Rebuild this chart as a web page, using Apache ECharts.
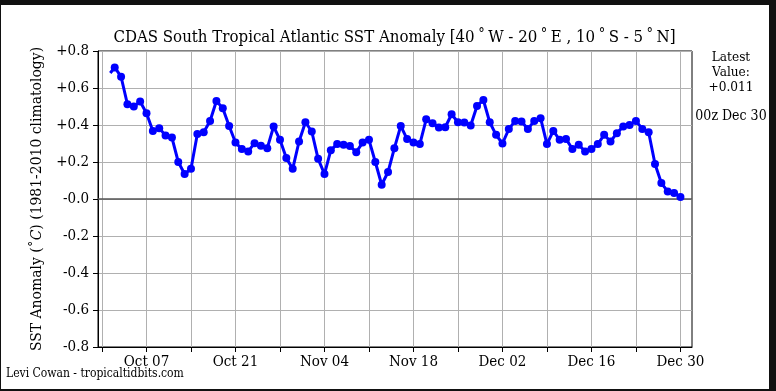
<!DOCTYPE html>
<html>
<head>
<meta charset="utf-8">
<script src="https://cdn.jsdelivr.net/npm/echarts@6/dist/echarts.min.js"></script>
<style>
  html, body { margin: 0; padding: 0; background: #111111; }
  #frame { position: absolute; left: 1px; top: 5px; width: 768px; height: 384px; background: #ffffff; }
  #chart { position: absolute; left: 0; top: 0; width: 776px; height: 391px; }
</style>
</head>
<body>
<div id="frame"></div>
<div id="chart"></div>
<script>
// Daily 00z values, Oct 02 .. Dec 30 (day offsets measured from Oct 07)
const firstDay = -5;            // Oct 02
const leadIn = [-5.7, 0.681];   // start of the line (no marker)
const octValues = [0.711, 0.661, 0.512, 0.500, 0.527, 0.464, 0.368, 0.383, 0.343, 0.332,
  0.200, 0.135, 0.163, 0.351, 0.361, 0.422, 0.530, 0.491, 0.395, 0.305,
  0.270, 0.257, 0.302, 0.288, 0.275, 0.392, 0.320, 0.221, 0.163, 0.311];
const novValues = [0.415, 0.365, 0.217, 0.135, 0.264, 0.297, 0.293, 0.287, 0.253, 0.305,
  0.320, 0.200, 0.077, 0.146, 0.275, 0.395, 0.324, 0.305, 0.297, 0.431,
  0.410, 0.386, 0.388, 0.458, 0.415, 0.413, 0.397, 0.503, 0.535, 0.415];
const decValues = [0.347, 0.300, 0.378, 0.422, 0.419, 0.378, 0.422, 0.437, 0.297, 0.368,
  0.320, 0.325, 0.270, 0.293, 0.257, 0.270, 0.297, 0.347, 0.311, 0.356,
  0.392, 0.400, 0.422, 0.379, 0.361, 0.189, 0.086, 0.041, 0.032, 0.011];
const tickDays = [-7, 0, 7, 14, 21, 28, 35, 42, 49, 56, 63, 70, 77, 84];
const labelDays = [0, 14, 28, 42, 56, 70, 84];

const allValues = octValues.concat(novValues, decValues);
const seriesData = [{ value: leadIn, symbol: 'none' }].concat(
  allValues.map((v, i) => [firstDay + i, v]));

const months = ['Jan','Feb','Mar','Apr','May','Jun','Jul','Aug','Sep','Oct','Nov','Dec'];
function dayLabel(d) {
  const dt = new Date(2024, 9, 7 + Math.round(d));
  const dd = dt.getDate();
  return months[dt.getMonth()] + ' ' + (dd < 10 ? '0' + dd : dd);
}

const FONT = '"DejaVu Serif Condensed", "DejaVu Serif", serif';
const chart = echarts.init(document.getElementById('chart'), null, { renderer: 'canvas' });
chart.setOption({
  backgroundColor: 'transparent',
  animation: false,
  textStyle: { fontFamily: FONT },
  grid: { left: 98, top: 51, right: 84, bottom: 44, show: true, borderColor: '#000', borderWidth: 1, containLabel: false },
  xAxis: {
    type: 'value',
    min: -7.63, max: 85.82,
    axisLine: { show: true, onZero: false, lineStyle: { color: '#000', width: 1 } },
    axisTick: { show: true, customValues: tickDays, length: 5, lineStyle: { color: '#000' } },
    axisLabel: { customValues: labelDays, formatter: dayLabel, color: '#000', fontSize: 15, fontFamily: FONT, margin: 8 },
    splitLine: { show: true, lineStyle: { color: '#b0b0b0', width: 1 } }
  },
  yAxis: {
    type: 'value',
    min: -0.8, max: 0.8, interval: 0.2,
    axisLine: { show: true, onZero: false, lineStyle: { color: '#000', width: 1 } },
    axisTick: { show: true, length: 5, lineStyle: { color: '#000' } },
    axisLabel: {
      color: '#000', fontSize: 15, fontFamily: FONT, margin: 9,
      formatter: v => (v > 1e-6 ? '+' : '-') + Math.abs(v).toFixed(1)
    },
    splitLine: { show: true, lineStyle: { color: '#b0b0b0', width: 1 } },
    name: 'SST Anomaly (˚{i|C}) (1981-2010 climatology)',
    nameLocation: 'middle', nameGap: 53, nameRotate: 90,
    nameTextStyle: { color: '#000', fontSize: 15.5, fontFamily: FONT, rich: { i: { fontStyle: 'italic', fontSize: 15.5, fontFamily: FONT, color: '#000' } } }
  },
  series: [{
    type: 'line',
    data: seriesData,
    symbol: 'circle', symbolSize: 8,
    lineStyle: { color: '#0000ff', width: 3 },
    itemStyle: { color: '#0000ff' },
    z: 5,
    markLine: {
      silent: true, symbol: 'none', label: { show: false },
      lineStyle: { color: '#555555', width: 1.5, type: 'solid' },
      data: [{ yAxis: 0 }]
    }
  }],
  graphic: [
    { type: 'text', x: 394.5, y: 38, style: { text: 'CDAS South Tropical Atlantic SST Anomaly [40\u2009˚\u2009W - 20\u2009˚\u2009E , 10\u2009˚\u2009S - 5\u2009˚\u2009N]', font: '16.7px ' + FONT, fill: '#000', align: 'center', verticalAlign: 'middle' } },
    { type: 'text', x: 731, y: 50, style: { text: 'Latest\nValue:\n+0.011', font: '13.5px ' + FONT, fill: '#000', align: 'center', lineHeight: 15 } },
    { type: 'text', x: 731, y: 109, style: { text: '00z Dec 30', font: '14px ' + FONT, fill: '#000', align: 'center' } },
    { type: 'text', x: 6, y: 368, style: { text: 'Levi Cowan - tropicaltidbits.com', font: '12px ' + FONT, fill: '#000' } }
  ]
});
</script>
</body>
</html>
